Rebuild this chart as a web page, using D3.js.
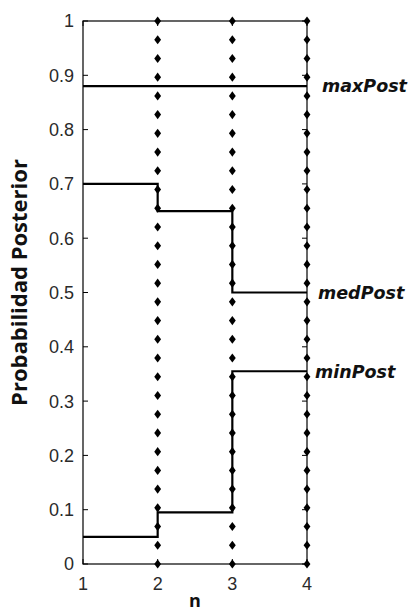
<!DOCTYPE html>
<html>
<head>
<meta charset="utf-8">
<script src="https://cdn.jsdelivr.net/npm/d3@7"></script>
<style>
  html, body { margin: 0; padding: 0; background: #fff; }
  svg { display: block; }
  .tick-label { font-family: "Liberation Sans Narrow", "Liberation Sans", Arial, sans-serif; font-size: 18px; fill: #2a2a2a; }
  .series-label { font-family: "DejaVu Sans", sans-serif; font-weight: bold; font-style: italic; font-size: 17.5px; fill: #111; }
  .axis-title { font-family: "Open Sans", sans-serif; font-weight: bold; font-size: 22px; fill: #111; }
</style>
</head>
<body>
<svg id="chart" width="412" height="612"></svg>
<script>
// Posterior probability bounds over n
const nValues = [1, 2, 3, 4];
const maxPost = [0.88, 0.88, 0.88, 0.88];
const medPost = [0.70, 0.65, 0.50, 0.50];
const minPost = [0.05, 0.095, 0.355, 0.355];
const seriesNames = ["maxPost", "medPost", "minPost"];
const yTicks = [0, 0.1, 0.2, 0.3, 0.4, 0.5, 0.6, 0.7, 0.8, 0.9, 1];
const xTicks = [1, 2, 3, 4];
// marker columns drawn at each new n, 30 evenly spaced points from 0 to 1
const markerN = [2, 3, 4];
const markerLevels = d3.range(30).map(i => i / 29);

const svg = d3.select("#chart");
const margin = { left: 83, right: 105, top: 21, bottom: 48 };
const W = 412, H = 612;

const x = d3.scaleLinear().domain([1, 4]).range([margin.left, W - margin.right]);
const y = d3.scaleLinear().domain([0, 1]).range([H - margin.bottom, margin.top]);

// Box
svg.append("rect")
  .attr("x", x(1)).attr("y", y(1))
  .attr("width", x(4) - x(1)).attr("height", y(0) - y(1))
  .attr("fill", "none").attr("stroke", "#000").attr("stroke-width", 1.2);

// Inward ticks on all four sides
const tickLen = 5;
const tg = svg.append("g").attr("stroke", "#000").attr("stroke-width", 1);
yTicks.forEach(v => {
  tg.append("line").attr("x1", x(1)).attr("x2", x(1) + tickLen).attr("y1", y(v)).attr("y2", y(v));
  tg.append("line").attr("x1", x(4)).attr("x2", x(4) - tickLen).attr("y1", y(v)).attr("y2", y(v));
});
xTicks.forEach(v => {
  tg.append("line").attr("x1", x(v)).attr("x2", x(v)).attr("y1", y(0)).attr("y2", y(0) - tickLen);
  tg.append("line").attr("x1", x(v)).attr("x2", x(v)).attr("y1", y(1)).attr("y2", y(1) + tickLen);
});

// Tick labels
svg.append("g").selectAll("text").data(yTicks).join("text")
  .attr("class", "tick-label")
  .attr("x", x(1) - 9).attr("y", d => y(d))
  .attr("dy", "0.36em").attr("text-anchor", "end")
  .text(d => d3.format("~g")(d));

svg.append("g").selectAll("text").data(xTicks).join("text")
  .attr("class", "tick-label")
  .attr("x", d => x(d)).attr("y", y(0) + 26)
  .attr("text-anchor", "middle")
  .text(d => d);

// Marker columns
const diamond = d3.symbol().type(d3.symbolDiamond).size(24);
markerN.forEach(n => {
  svg.append("g").selectAll("path").data(markerLevels).join("path")
    .attr("d", diamond)
    .attr("transform", d => `translate(${x(n)},${y(d)}) scale(1.3,1)`)
    .attr("fill", "#000");
});

// Step lines
const series = [maxPost, medPost, minPost];
const line = d3.line()
  .x((d, i) => x(nValues[i]))
  .y(d => y(d))
  .curve(d3.curveStepAfter);
series.forEach(s => {
  svg.append("path").datum(s)
    .attr("d", line)
    .attr("fill", "none").attr("stroke", "#000").attr("stroke-width", 2.2);
});

// Series labels at the right end
const labelDx = [15, 11, 8];
series.forEach((s, i) => {
  svg.append("text").attr("class", "series-label")
    .attr("x", x(4) + labelDx[i]).attr("y", y(s[s.length - 1]))
    .attr("dy", "0.36em")
    .text(seriesNames[i]);
});

// Axis titles
svg.append("text").attr("class", "axis-title")
  .attr("transform", `translate(27,${(y(0) + y(1)) / 2 - 10}) rotate(-90)`)
  .attr("text-anchor", "middle")
  .text("Probabilidad Posterior");

svg.append("text").attr("class", "axis-title")
  .attr("x", (x(1) + x(4)) / 2).attr("y", 607)
  .attr("text-anchor", "middle")
  .style("font-size", "18px")
  .text("n");
</script>
</body>
</html>
